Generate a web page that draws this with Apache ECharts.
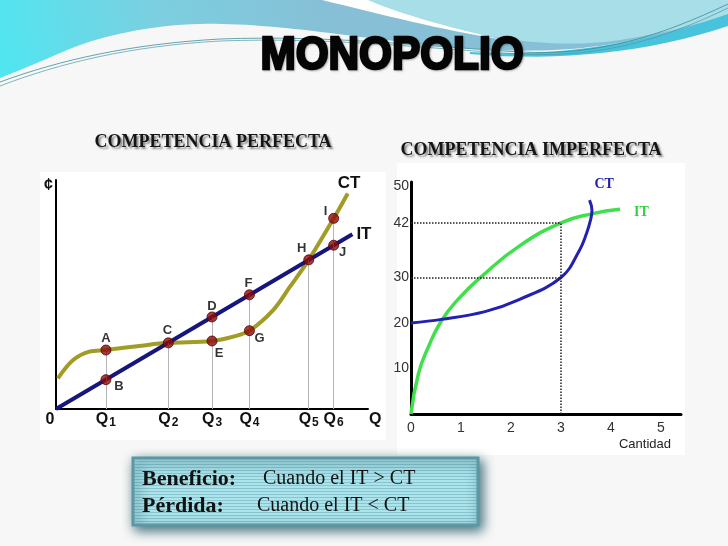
<!DOCTYPE html>
<html>
<head>
<meta charset="utf-8">
<script src="https://cdn.jsdelivr.net/npm/echarts@6/dist/echarts.min.js"></script>
<style>
html,body{margin:0;padding:0;background:#f7f7f7}
#c{width:728px;height:546px}
</style>
</head>
<body>
<div id="c"></div>
<script>
// ---- Competencia perfecta: quantities Q1..Q6 and the readings of IT / CT ----
const qSubscripts = ['1', '2', '3', '4', '5', '6'];
const qValues = [16, 36, 50, 62, 81, 89];
const itAtQ = [9.4, 21.2, 29.5, 36.6, 47.8, 52.5];
const ctAtQ = [18.9, 21.2, 21.8, 25.1, 47.8, 61.1];
const itLineQ = [0, 95];
const itLineV = [0, 56];
const ctCurveQ = [0.6, 5.5, 10.7, 16, 27.4, 36, 50, 56.8, 62, 69.6, 75, 81, 89, 93.5];
const ctCurveV = [9.8, 15.7, 18.4, 18.9, 20.3, 21.2, 21.8, 23.2, 25.1, 31.7, 39.2, 47.8, 61.1, 69.1];
// lettered points: which quantity and which curve each one sits on
const pointNames = ['A', 'B', 'C', 'D', 'E', 'F', 'G', 'H', 'I', 'J'];
const pointQIndex = [0, 0, 1, 2, 2, 3, 3, 4, 5, 5];
const pointCurve = ['CT', 'IT', 'IT', 'IT', 'CT', 'IT', 'CT', 'IT', 'CT', 'IT'];

// ---- Competencia imperfecta ----
const precioTicks = [10, 20, 30, 42, 50];
const itImpX = [0, 0.15, 0.35, 0.61, 0.95, 1.41, 2.15, 3, 3.61, 4.18];
const itImpY = [0, 8.9, 14.8, 20.5, 25.3, 30.2, 36.8, 42, 44, 45];
const ctImpX = [0, 0.61, 1.48, 2.15, 3, 3.37, 3.51, 3.59, 3.62, 3.57];
const ctImpY = [20, 20.8, 22.5, 25.1, 30, 36, 39.7, 42.6, 44.8, 47];
const refQ = 3;
const refIT = 42;
const refCT = 30;

const zip = (a, b) => a.map((v, i) => [v, b[i]]);

// letter placement around each dot (pixels)
const letterOffset = {
  A: [0, -12], B: [13, 7], C: [-1, -12], D: [0, -11], E: [7, 12],
  F: [-1, -11], G: [10, 8], H: [-7, -11], I: [-8, -7], J: [9, 7]
};

const SANS = '"Liberation Sans", Arial, sans-serif';
const SERIF = '"Liberation Serif", "Times New Roman", serif';

const pointData = pointNames.map((n, i) => {
  const k = pointQIndex[i];
  return {
    name: n,
    value: [qValues[k], pointCurve[i] === 'CT' ? ctAtQ[k] : itAtQ[k]],
    label: { offset: letterOffset[n] }
  };
});

const guideLines = qValues.map((q, i) => [
  { coord: [q, 0] },
  { coord: [q, Math.max(itAtQ[i], ctAtQ[i])] }
]);

// turn a simple absolute SVG-like outline (M/L/H/V/C/Z) into a point list
function outline(d) {
  const tk = d.match(/[MLHVCZ]|-?\d*\.?\d+/g);
  const pts = [];
  let i = 0, cx = 0, cy = 0, cmd = '';
  const num = () => parseFloat(tk[i++]);
  while (i < tk.length) {
    if (/[MLHVCZ]/.test(tk[i])) cmd = tk[i++];
    if (cmd === 'Z') break;
    if (cmd === 'M' || cmd === 'L') { cx = num(); cy = num(); pts.push([cx, cy]); }
    else if (cmd === 'H') { cx = num(); pts.push([cx, cy]); }
    else if (cmd === 'V') { cy = num(); pts.push([cx, cy]); }
    else if (cmd === 'C') {
      const x1 = num(), y1 = num(), x2 = num(), y2 = num(), x = num(), y = num();
      for (let s = 1; s <= 16; s++) {
        const t = s / 16, u = 1 - t;
        pts.push([
          u * u * u * cx + 3 * u * u * t * x1 + 3 * u * t * t * x2 + t * t * t * x,
          u * u * u * cy + 3 * u * u * t * y1 + 3 * u * t * t * y2 + t * t * t * y
        ]);
      }
      cx = x; cy = y;
    }
  }
  return pts;
}

// striped fill for the note box
const stripe = document.createElement('canvas');
stripe.width = 4; stripe.height = 3;
const sg = stripe.getContext('2d');
sg.fillStyle = '#ade3eb'; sg.fillRect(0, 0, 4, 3);
sg.fillStyle = '#86c5d0'; sg.fillRect(0, 2, 4, 1);

const chart = echarts.init(document.getElementById('c'), null, { renderer: 'canvas' });

const headerGradient = {
  type: 'linear', x: 0, y: 1, x2: 0.45, y2: 0,
  colorStops: [
    { offset: 0, color: '#4fe6f1' }, { offset: 0.5, color: '#7ccfe0' }, { offset: 1, color: '#86bfd6' }
  ]
};

const option = {
  backgroundColor: '#f7f7f7',
  animation: false,
  graphic: [
    // header band
    {
      type: 'polygon', z: 0, silent: true,
      shape: { points: outline('M0 0 H728 V16 C690 28 640 42 590 47 C550 52 500 52 440 46 C400 42 360 37 330 33 C280 27 240 23 200 24 C150 25 100 36 67 50 C40 62 20 70 0 78 Z') },
      style: { fill: headerGradient }
    },
    {
      type: 'polygon', z: 0, silent: true,
      shape: { points: outline('M470 52 C560 58 650 42 728 14 V26 C650 52 560 62 470 54 Z') },
      style: { fill: '#49c3db' }
    },
    {
      type: 'polygon', z: 0, silent: true,
      shape: { points: outline('M330 0 C380 12 440 28 500 38 C540 44 580 46 620 40 C660 34 700 24 728 14 V0 Z') },
      style: { fill: '#a7dee7' }
    },
    {
      type: 'polygon', z: 0, silent: true,
      shape: { points: outline('M322 0 C380 14 440 30 505 40 C445 27 395 12 368 0 Z') },
      style: { fill: '#ffffff' }
    },
    {
      type: 'polyline', z: 0, silent: true,
      shape: { points: outline('M0 82 C60 60 130 44 220 39 C330 35 420 46 520 52 C600 56 660 36 728 4') },
      style: { fill: null, stroke: '#3a8e9b', lineWidth: 0.8 }
    },
    {
      type: 'polyline', z: 0, silent: true,
      shape: { points: outline('M0 86 C60 63 130 46 220 41 C330 37 420 48 520 54 C600 58 662 40 728 8') },
      style: { fill: null, stroke: '#4a9aa6', lineWidth: 0.7 }
    },
    // white plotting panels
    { type: 'rect', z: 0, silent: true, shape: { x: 40, y: 172, width: 346, height: 268 }, style: { fill: '#ffffff' } },
    { type: 'rect', z: 0, silent: true, shape: { x: 397, y: 163, width: 288, height: 292 }, style: { fill: '#ffffff' } },
    // title
    {
      type: 'text', z: 10, x: 392, y: 56, scaleX: 0.9,
      style: {
        text: 'MONOPOLIO', font: 'bold 47px ' + SANS, fill: '#050505',
        align: 'center', verticalAlign: 'middle',
        stroke: '#050505', lineWidth: 2.6,
        textShadowColor: 'rgba(0,0,0,0.25)', textShadowBlur: 2, textShadowOffsetX: 1, textShadowOffsetY: 1
      }
    },
    // panel headings
    {
      type: 'text', z: 10, x: 213, y: 142,
      style: {
        text: 'COMPETENCIA PERFECTA', font: 'bold 18px ' + SERIF, fill: '#151515',
        align: 'center', verticalAlign: 'middle',
        textShadowColor: 'rgba(0,0,0,0.45)', textShadowBlur: 2, textShadowOffsetX: 2, textShadowOffsetY: 2
      }
    },
    {
      type: 'text', z: 10, x: 531, y: 150,
      style: {
        text: 'COMPETENCIA IMPERFECTA', font: 'bold 18px ' + SERIF, fill: '#151515',
        align: 'center', verticalAlign: 'middle',
        textShadowColor: 'rgba(0,0,0,0.45)', textShadowBlur: 2, textShadowOffsetX: 2, textShadowOffsetY: 2
      }
    },
    // note box
    {
      type: 'rect', z: 10,
      shape: { x: 133, y: 458, width: 345, height: 67 },
      style: {
        fill: { image: stripe, repeat: 'repeat' },
        stroke: '#5b98a3', lineWidth: 3,
        shadowBlur: 12, shadowColor: 'rgba(25,85,95,0.85)', shadowOffsetX: 3, shadowOffsetY: 4
      }
    },
    { type: 'text', z: 11, x: 142, y: 479, style: { text: 'Beneficio:', font: 'bold 22px ' + SERIF, fill: '#111', verticalAlign: 'middle' } },
    { type: 'text', z: 11, x: 263, y: 479, style: { text: 'Cuando el IT > CT', font: '20px ' + SERIF, fill: '#111', verticalAlign: 'middle' } },
    { type: 'text', z: 11, x: 142, y: 506, style: { text: 'Pérdida:', font: 'bold 22px ' + SERIF, fill: '#111', verticalAlign: 'middle' } },
    { type: 'text', z: 11, x: 257, y: 506, style: { text: 'Cuando el IT < CT', font: '20px ' + SERIF, fill: '#111', verticalAlign: 'middle' } }
  ],
  grid: [
    { left: 56, top: 180, width: 312, height: 229 },
    { left: 411, top: 182, width: 270, height: 232 }
  ],
  xAxis: [
    {
      gridIndex: 0, type: 'value', min: 0, max: 100,
      axisLine: { lineStyle: { color: '#000', width: 2 } },
      axisTick: { show: false }, splitLine: { show: false },
      axisLabel: {
        customValues: [0].concat(qValues),
        margin: 2,
        formatter: (v) => {
          if (v === 0) return '{z|0}';
          const i = qValues.indexOf(v);
          return i < 0 ? '' : '{q|Q}{s|' + qSubscripts[i] + '}';
        },
        rich: {
          z: { fontFamily: SANS, fontWeight: 'bold', fontSize: 16, color: '#111', padding: [0, 12, 0, 0], lineHeight: 18 },
          q: { fontFamily: SANS, fontWeight: 'bold', fontSize: 16, color: '#111', lineHeight: 18 },
          s: { fontFamily: SANS, fontWeight: 'bold', fontSize: 12, color: '#111', lineHeight: 18, verticalAlign: 'bottom', padding: [9, 0, 0, 1] }
        }
      },
      name: 'Q', nameLocation: 'end', nameGap: 1,
      nameTextStyle: { fontFamily: SANS, fontWeight: 'bold', fontSize: 16, color: '#111', verticalAlign: 'top', padding: [3, 0, 0, 0] }
    },
    {
      gridIndex: 1, type: 'value', min: 0, max: 5.4, interval: 1,
      axisLine: { lineStyle: { color: '#000', width: 3 } },
      axisTick: { show: false }, splitLine: { show: false },
      axisLabel: { fontFamily: SANS, fontSize: 14, color: '#333', margin: 7, showMaxLabel: false },
      name: 'Cantidad', nameLocation: 'end', nameGap: -10,
      nameTextStyle: { fontFamily: SANS, fontSize: 13, color: '#222', align: 'right', verticalAlign: 'top', padding: [24, 0, 0, 0] }
    }
  ],
  yAxis: [
    {
      gridIndex: 0, type: 'value', min: 0, max: 73.4,
      axisLine: { lineStyle: { color: '#000', width: 2 } },
      axisTick: { show: false }, splitLine: { show: false }, axisLabel: { show: false },
      name: '¢', nameLocation: 'end', nameGap: 2,
      nameTextStyle: { fontFamily: SANS, fontWeight: 'bold', fontSize: 16, color: '#111', align: 'right', verticalAlign: 'top', padding: [0, 3, 0, 0] }
    },
    {
      gridIndex: 1, type: 'value', min: 0, max: 51,
      axisLine: { lineStyle: { color: '#000', width: 3 } },
      axisTick: { show: false }, splitLine: { show: false },
      axisLabel: { customValues: precioTicks, fontFamily: SANS, fontSize: 14, color: '#333', margin: 2 }
    }
  ],
  series: [
    // IT straight line
    {
      type: 'line', xAxisIndex: 0, yAxisIndex: 0, z: 3,
      data: zip(itLineQ, itLineV), symbol: 'none',
      lineStyle: { color: '#16167c', width: 4 },
      endLabel: {
        show: true, formatter: 'IT', fontFamily: SANS, fontWeight: 'bold', fontSize: 17, color: '#111',
        distance: 0, align: 'left', verticalAlign: 'middle', offset: [4, 0]
      }
    },
    // CT cubic-shaped curve with guide lines down to the quantities
    {
      type: 'line', xAxisIndex: 0, yAxisIndex: 0, z: 2,
      data: zip(ctCurveQ, ctCurveV), symbol: 'none', smooth: 0.35,
      lineStyle: { color: '#a19c26', width: 4 },
      endLabel: {
        show: true, formatter: 'CT', fontFamily: SANS, fontWeight: 'bold', fontSize: 17, color: '#111',
        distance: 0, align: 'left', verticalAlign: 'middle', offset: [-10, -10]
      },
      markLine: {
        silent: true, symbol: ['none', 'none'], label: { show: false },
        lineStyle: { color: '#b5b5b5', width: 1, type: 'solid' },
        data: guideLines
      }
    },
    // lettered points
    {
      type: 'scatter', xAxisIndex: 0, yAxisIndex: 0, z: 5,
      data: pointData, symbolSize: 10,
      itemStyle: { color: '#8c0b0b', borderColor: '#5a0000', borderWidth: 1 },
      label: {
        show: true, position: 'inside', formatter: '{b}', align: 'center', verticalAlign: 'middle',
        fontFamily: SANS, fontWeight: 'bold', fontSize: 13, color: '#000'
      }
    },
    // IT (imperfect competition) with the dotted reference lines
    {
      type: 'line', xAxisIndex: 1, yAxisIndex: 1, z: 3,
      data: zip(itImpX, itImpY), symbol: 'none', smooth: 0.5,
      lineStyle: { color: '#3fe04b', width: 3.5 },
      endLabel: {
        show: true, formatter: 'IT', fontFamily: SERIF, fontWeight: 'bold', fontSize: 14, color: '#36cf44',
        distance: 0, align: 'left', verticalAlign: 'middle', offset: [14, 3]
      },
      markLine: {
        silent: true, symbol: ['none', 'none'], label: { show: false },
        lineStyle: { color: '#222', width: 1.5, type: 'dotted' },
        data: [
          [{ coord: [0, refIT] }, { coord: [refQ, refIT] }],
          [{ coord: [0, refCT] }, { coord: [refQ, refCT] }],
          [{ coord: [refQ, 0] }, { coord: [refQ, refIT] }]
        ]
      }
    },
    // CT (imperfect competition)
    {
      type: 'line', xAxisIndex: 1, yAxisIndex: 1, z: 4,
      data: zip(ctImpX, ctImpY), symbol: 'none', smooth: 0.4,
      lineStyle: { color: '#2121b2', width: 3 },
      endLabel: {
        show: true, formatter: 'CT', fontFamily: SERIF, fontWeight: 'bold', fontSize: 14, color: '#2222a8',
        distance: 0, align: 'left', verticalAlign: 'middle', offset: [5, -16]
      }
    }
  ]
};

chart.setOption(option);
</script>
</body>
</html>
